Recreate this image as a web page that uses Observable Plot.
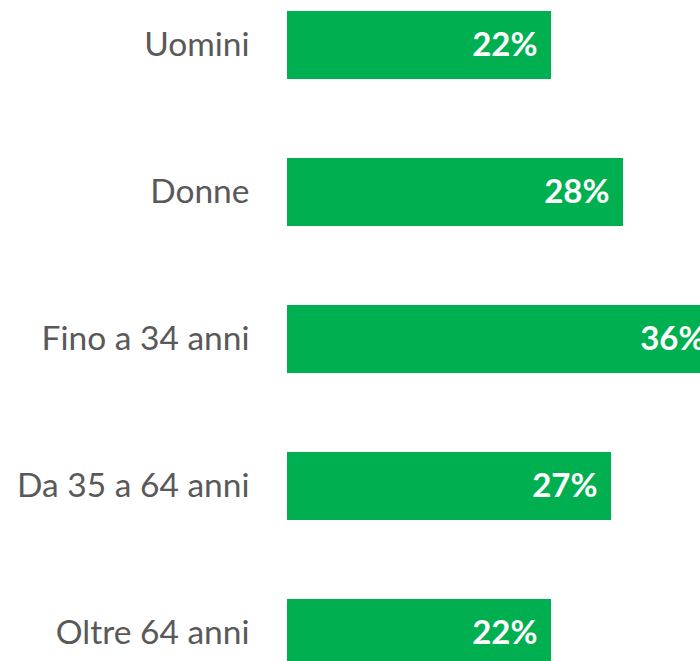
<!DOCTYPE html>
<html>
<head>
<meta charset="utf-8">
<script src="https://cdn.jsdelivr.net/npm/d3@7"></script>
<script src="https://cdn.jsdelivr.net/npm/@observablehq/plot@0.6"></script>
<style>
  html, body { margin: 0; padding: 0; background: #fff; }
  #chart svg { display: block; overflow: hidden; }
</style>
</head>
<body>
<div id="chart"></div>
<script>
const categories = ["Uomini", "Donne", "Fino a 34 anni", "Da 35 a 64 anni", "Oltre 64 anni"];
const values = [0.22, 0.28, 0.36, 0.27, 0.22];
const valueLabels = ["22%", "28%", "36%", "27%", "22%"];

const data = categories.map((c, i) => ({category: c, value: values[i], label: valueLabels[i]}));

const chart = Plot.plot({
  width: 700,
  height: 661,
  marginLeft: 287,
  marginRight: 0,
  marginTop: 0,
  marginBottom: 0,
  style: {fontFamily: "Lato, sans-serif", background: "#fff"},
  x: {domain: [0, 1], range: [287, 1487], axis: null},
  y: {domain: categories, range: [10, 668], paddingInner: 0.539, paddingOuter: 0, label: null},
  marks: [
    Plot.barX(data, {x: "value", y: "category", fill: "#00B050"}),
    Plot.text(data, {
      x: "value", y: "category", text: "label",
      textAnchor: "end", dx: -14, fill: "#fff",
      fontSize: 33, fontWeight: "bold"
    }),
    Plot.axisY({tickSize: 0, tickPadding: 38, fontSize: 33.5, color: "#595959", label: null})
  ]
});
document.getElementById("chart").appendChild(chart);
</script>
</body>
</html>
